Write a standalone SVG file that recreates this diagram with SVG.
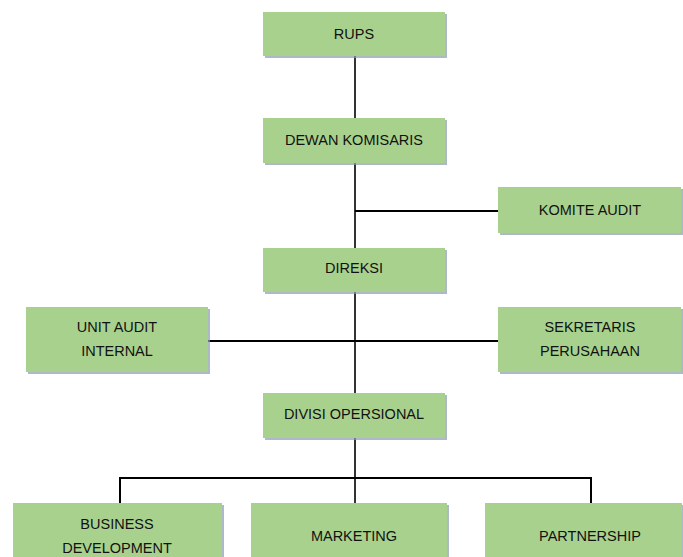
<svg xmlns="http://www.w3.org/2000/svg" width="683" height="557" viewBox="0 0 683 557">
<style>
.box{fill:#A9D18E;}
.shd{fill:#8A9BB0;opacity:0.7;}
.t{font-family:"Liberation Sans",Arial,sans-serif;font-size:14.5px;fill:#111;text-anchor:middle;dominant-baseline:central;}
.ln{stroke:#000;stroke-width:2;fill:none;}
.vl{stroke:#333;stroke-width:2;fill:none;}
</style>
<rect width="683" height="557" fill="#fff"/>
<g id="connectors">
<line class="vl" x1="355" y1="56" x2="355" y2="503"/>
<line class="ln" x1="355" y1="211" x2="498" y2="211"/>
<line class="ln" x1="208" y1="341" x2="498" y2="341"/>
<polyline class="ln" points="120,503 120,478 591,478 591,503"/>
</g>
<g id="rups"><rect class="shd" x="265" y="14" width="182" height="44"/><rect class="box" x="263" y="12" width="182" height="44"/><text class="t" x="354" y="34">RUPS</text></g>
<g id="dewan-komisaris"><rect class="shd" x="265" y="120" width="182" height="45"/><rect class="box" x="263" y="118" width="182" height="45"/><text class="t" x="354" y="140">DEWAN KOMISARIS</text></g>
<g id="komite-audit"><rect class="shd" x="500" y="189" width="183" height="46"/><rect class="box" x="498" y="187" width="183" height="46"/><text class="t" x="590" y="210">KOMITE AUDIT</text></g>
<g id="direksi"><rect class="shd" x="265" y="250" width="182" height="44"/><rect class="box" x="263" y="248" width="182" height="44"/><text class="t" x="354" y="268">DIREKSI</text></g>
<g id="unit-audit-internal"><rect class="shd" x="28" y="309" width="182" height="65"/><rect class="box" x="26" y="307" width="182" height="65"/><text class="t" x="117" y="327">UNIT AUDIT</text><text class="t" x="117" y="351">INTERNAL</text></g>
<g id="sekretaris-perusahaan"><rect class="shd" x="500" y="309" width="183" height="65"/><rect class="box" x="498" y="307" width="183" height="65"/><text class="t" x="590" y="327">SEKRETARIS</text><text class="t" x="590" y="351">PERUSAHAAN</text></g>
<g id="divisi-opersional"><rect class="shd" x="265" y="395" width="182" height="45"/><rect class="box" x="263" y="393" width="182" height="45"/><text class="t" x="354" y="414">DIVISI OPERSIONAL</text></g>
<g id="business-development"><rect class="shd" x="15" y="505" width="209" height="60"/><rect class="box" x="13" y="503" width="209" height="60"/><text class="t" x="117" y="524">BUSINESS</text><text class="t" x="117" y="548">DEVELOPMENT</text></g>
<g id="marketing"><rect class="shd" x="253" y="505" width="196" height="60"/><rect class="box" x="251" y="503" width="196" height="60"/><text class="t" x="354" y="536">MARKETING</text></g>
<g id="partnership"><rect class="shd" x="487" y="505" width="197" height="60"/><rect class="box" x="485" y="503" width="197" height="60"/><text class="t" x="590" y="536">PARTNERSHIP</text></g>
</svg>
